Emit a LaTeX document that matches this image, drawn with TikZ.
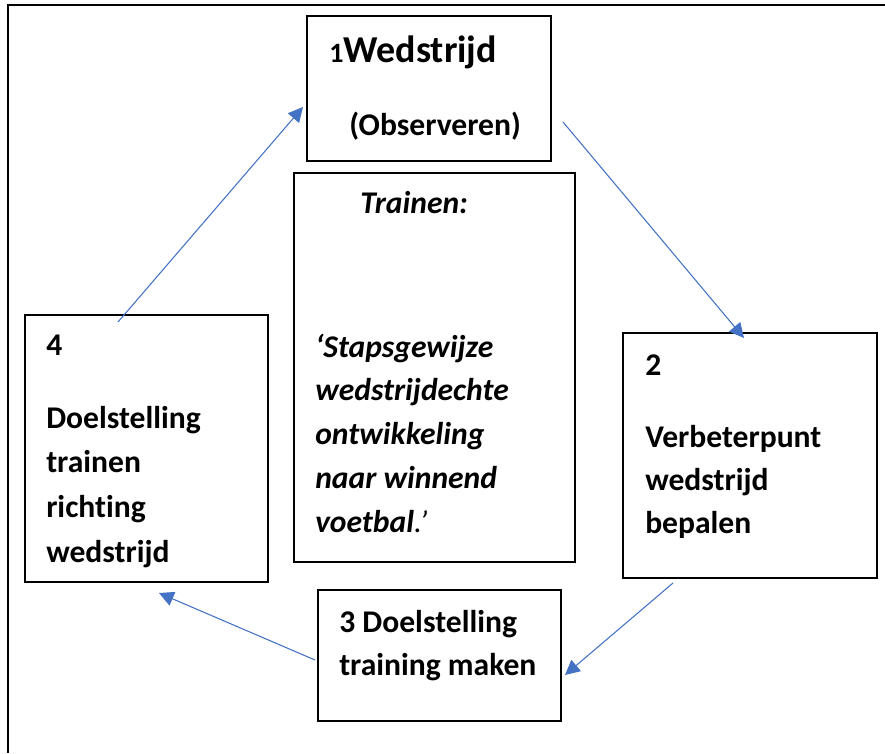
\documentclass[tikz,border=0pt]{standalone}
\usepackage{fontspec}
\setmainfont[Ligatures=NoCommon]{Carlito}
\usetikzlibrary{arrows.meta}
\definecolor{arrowblue}{RGB}{68,114,196}
\begin{document}
\begin{tikzpicture}[x=0.75pt,y=-0.75pt,
  box/.style={draw=black,line width=1.2pt,inner sep=0pt,fill=none},
  txt/.style={inner sep=0pt,align=left,font=\fontsize{23.7}{32.8}\selectfont\bfseries},
  flow/.style={draw=arrowblue,line width=0.8pt,-{Triangle[length=11pt,width=11pt]}}]
\useasboundingbox (0,0) rectangle (885,753);
% outer frame (partial)
\draw[line width=1.5pt] (8,753) -- (8,5) -- (885,5);
% boxes
\node[box,minimum width=244*0.75pt,minimum height=145*0.75pt] (b1) at (429,88.5) {};
\node[box,minimum width=281*0.75pt,minimum height=389*0.75pt] (bc) at (434.5,367.5) {};
\node[box,minimum width=243*0.75pt,minimum height=267*0.75pt] (b4) at (146.5,448.5) {};
\node[box,minimum width=254*0.75pt,minimum height=245*0.75pt] (b2) at (750,455.5) {};
\node[box,minimum width=243*0.75pt,minimum height=131*0.75pt] (b3) at (439.5,655.5) {};
% texts (multi-line nodes anchored at the baseline of their last line)
\node[txt,anchor=base west] (t1a) at (329,62) {{\fontsize{21}{24}\selectfont 1}{\fontsize{28.5}{32}\selectfont Wedstrijd}};
\node[txt,anchor=base west] (t1b) at (349,135) {(Observeren)};
\node[txt,anchor=base west] (tca) at (360,213) {\itshape Trainen:};
\node[txt,anchor=base west,font=\fontsize{23.7}{32.8}\selectfont\bfseries\itshape] (tcb) at (315,532)
  {‘Stapsgewijze\\wedstrijdechte\\ontwikkeling\\naar winnend\\voetbal{\mdseries.’}};
\node[txt,anchor=base west] (t4a) at (46,355) {4};
\node[txt,anchor=base west,font=\fontsize{23.7}{33.5}\selectfont\bfseries] (t4b) at (46,562)
  {Doelstelling\\trainen\\richting\\wedstrijd};
\node[txt,anchor=base west] (t2a) at (645,375) {2};
\node[txt,anchor=base west,font=\fontsize{23.7}{32.25}\selectfont\bfseries] (t2b) at (645,533)
  {Verbeterpunt\\wedstrijd\\bepalen};
\node[txt,anchor=base west,font=\fontsize{23.7}{32.25}\selectfont\bfseries] (t3) at (339,675)
  {3 Doelstelling\\training maken};
% arrow end points
\coordinate (a1s) at (563,122); \coordinate (a1e) at (744,338);
\coordinate (a2s) at (673,583); \coordinate (a2e) at (565,675);
\coordinate (a3s) at (315,660); \coordinate (a3e) at (159,593);
\coordinate (a4s) at (118,322); \coordinate (a4e) at (303,107);
\draw[flow] (a1s) -- (a1e);
\draw[flow] (a2s) -- (a2e);
\draw[flow] (a3s) -- (a3e);
\draw[flow] (a4s) -- (a4e);
\end{tikzpicture}
\end{document}
